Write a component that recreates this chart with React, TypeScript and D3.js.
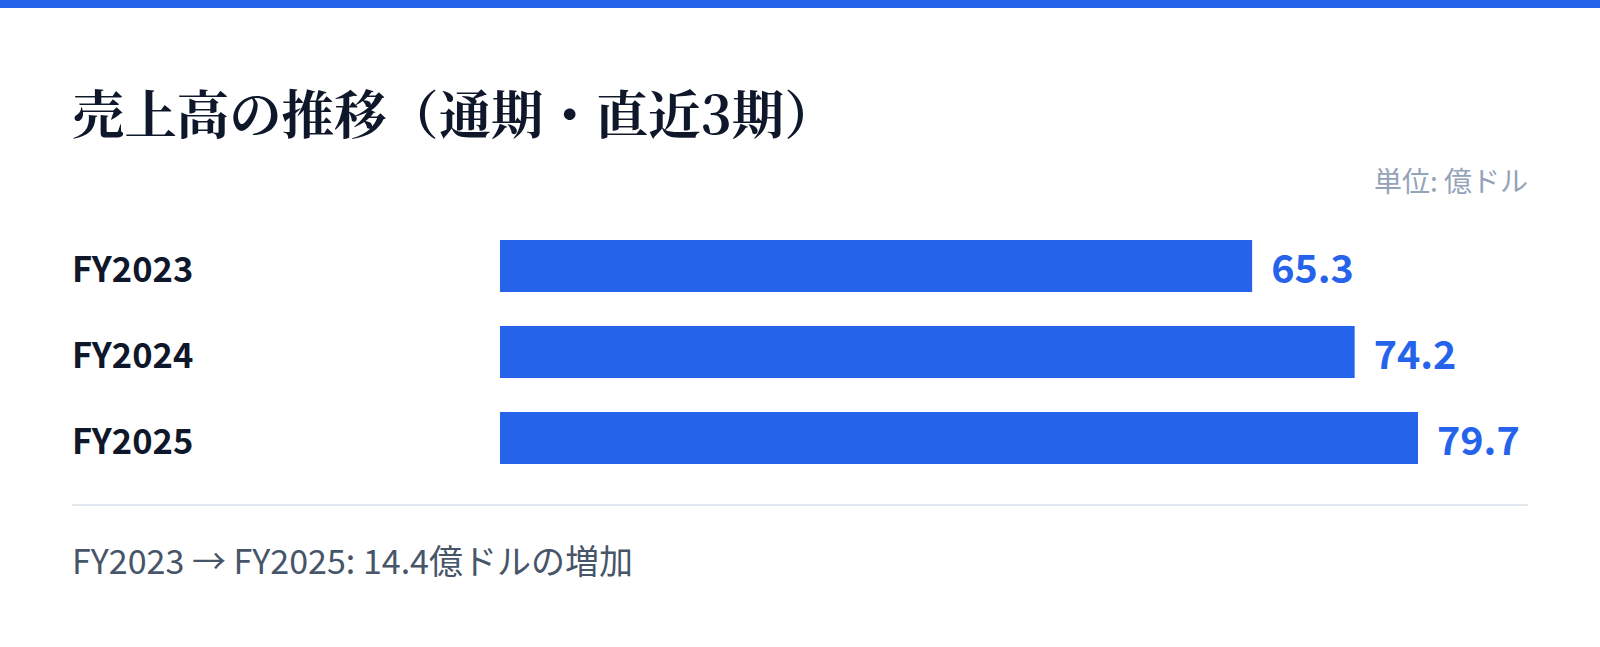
import React from "react";
import * as d3 from "d3";

const categories = ["FY2023", "FY2024", "FY2025"];
const values = [65.3, 74.2, 79.7];
const titleText = "売上高の推移（通期・直近3期）";
const unitText = "単位: 億ドル";
const footerText = "FY2023 → FY2025: 14.4億ドルの増加";

const W = 1600;
const H = 647;
const PAD = 72;
const BLUE = "#2563eb";
const SANS = "'Noto Sans CJK JP', 'Noto Sans', sans-serif";
const SERIF = "'Noto Serif CJK JP', 'Noto Serif JP', 'Liberation Serif', serif";

export default function App() {
  const x = d3.scaleLinear().domain([0, d3.max(values) as number]).range([500, 1418]);
  const y = d3
    .scaleBand<string>()
    .domain(categories)
    .range([240, 464])
    .paddingInner(34 / 86)
    .paddingOuter(0);
  const bw = y.bandwidth();

  return (
    <svg
      width={W}
      height={H}
      viewBox={`0 0 ${W} ${H}`}
      style={{ position: "absolute", left: 0, top: 0, background: "#fff" }}
    >
      <rect x={0} y={0} width={W} height={H} fill="#ffffff" />
      <rect x={0} y={0} width={W} height={8} fill={BLUE} />
      <text
        x={PAD}
        y={134}
        fontFamily={SERIF}
        fontWeight={700}
        fontSize={52.4}
        fill="#0f172a"
      >
        {titleText}
      </text>
      <text
        x={W - PAD}
        y={192}
        textAnchor="end"
        fontFamily={SANS}
        fontSize={28}
        fill="#94a3b8"
      >
        {unitText}
      </text>
      {categories.map((c, i) => {
        const cy = (y(c) as number) + bw / 2;
        return (
          <g key={c}>
            <text
              x={PAD}
              y={cy + 16}
              fontFamily={SANS}
              fontWeight={700}
              fontSize={34.5}
              fill="#0f172a"
            >
              {c}
            </text>
            <rect
              x={x(0)}
              y={y(c)}
              width={x(values[i]) - x(0)}
              height={bw}
              fill={BLUE}
            />
            <text
              x={x(values[i]) + 19}
              y={cy + 17}
              fontFamily={SANS}
              fontWeight={700}
              fontSize={39.5}
              fill={BLUE}
            >
              {values[i].toFixed(1)}
            </text>
          </g>
        );
      })}
      <line x1={PAD} x2={W - PAD} y1={505} y2={505} stroke="#e2e8f0" strokeWidth={2} />
      <text x={PAD} y={574} fontFamily={SANS} fontSize={34} fill="#475569">
        {footerText}
      </text>
    </svg>
  );
}
